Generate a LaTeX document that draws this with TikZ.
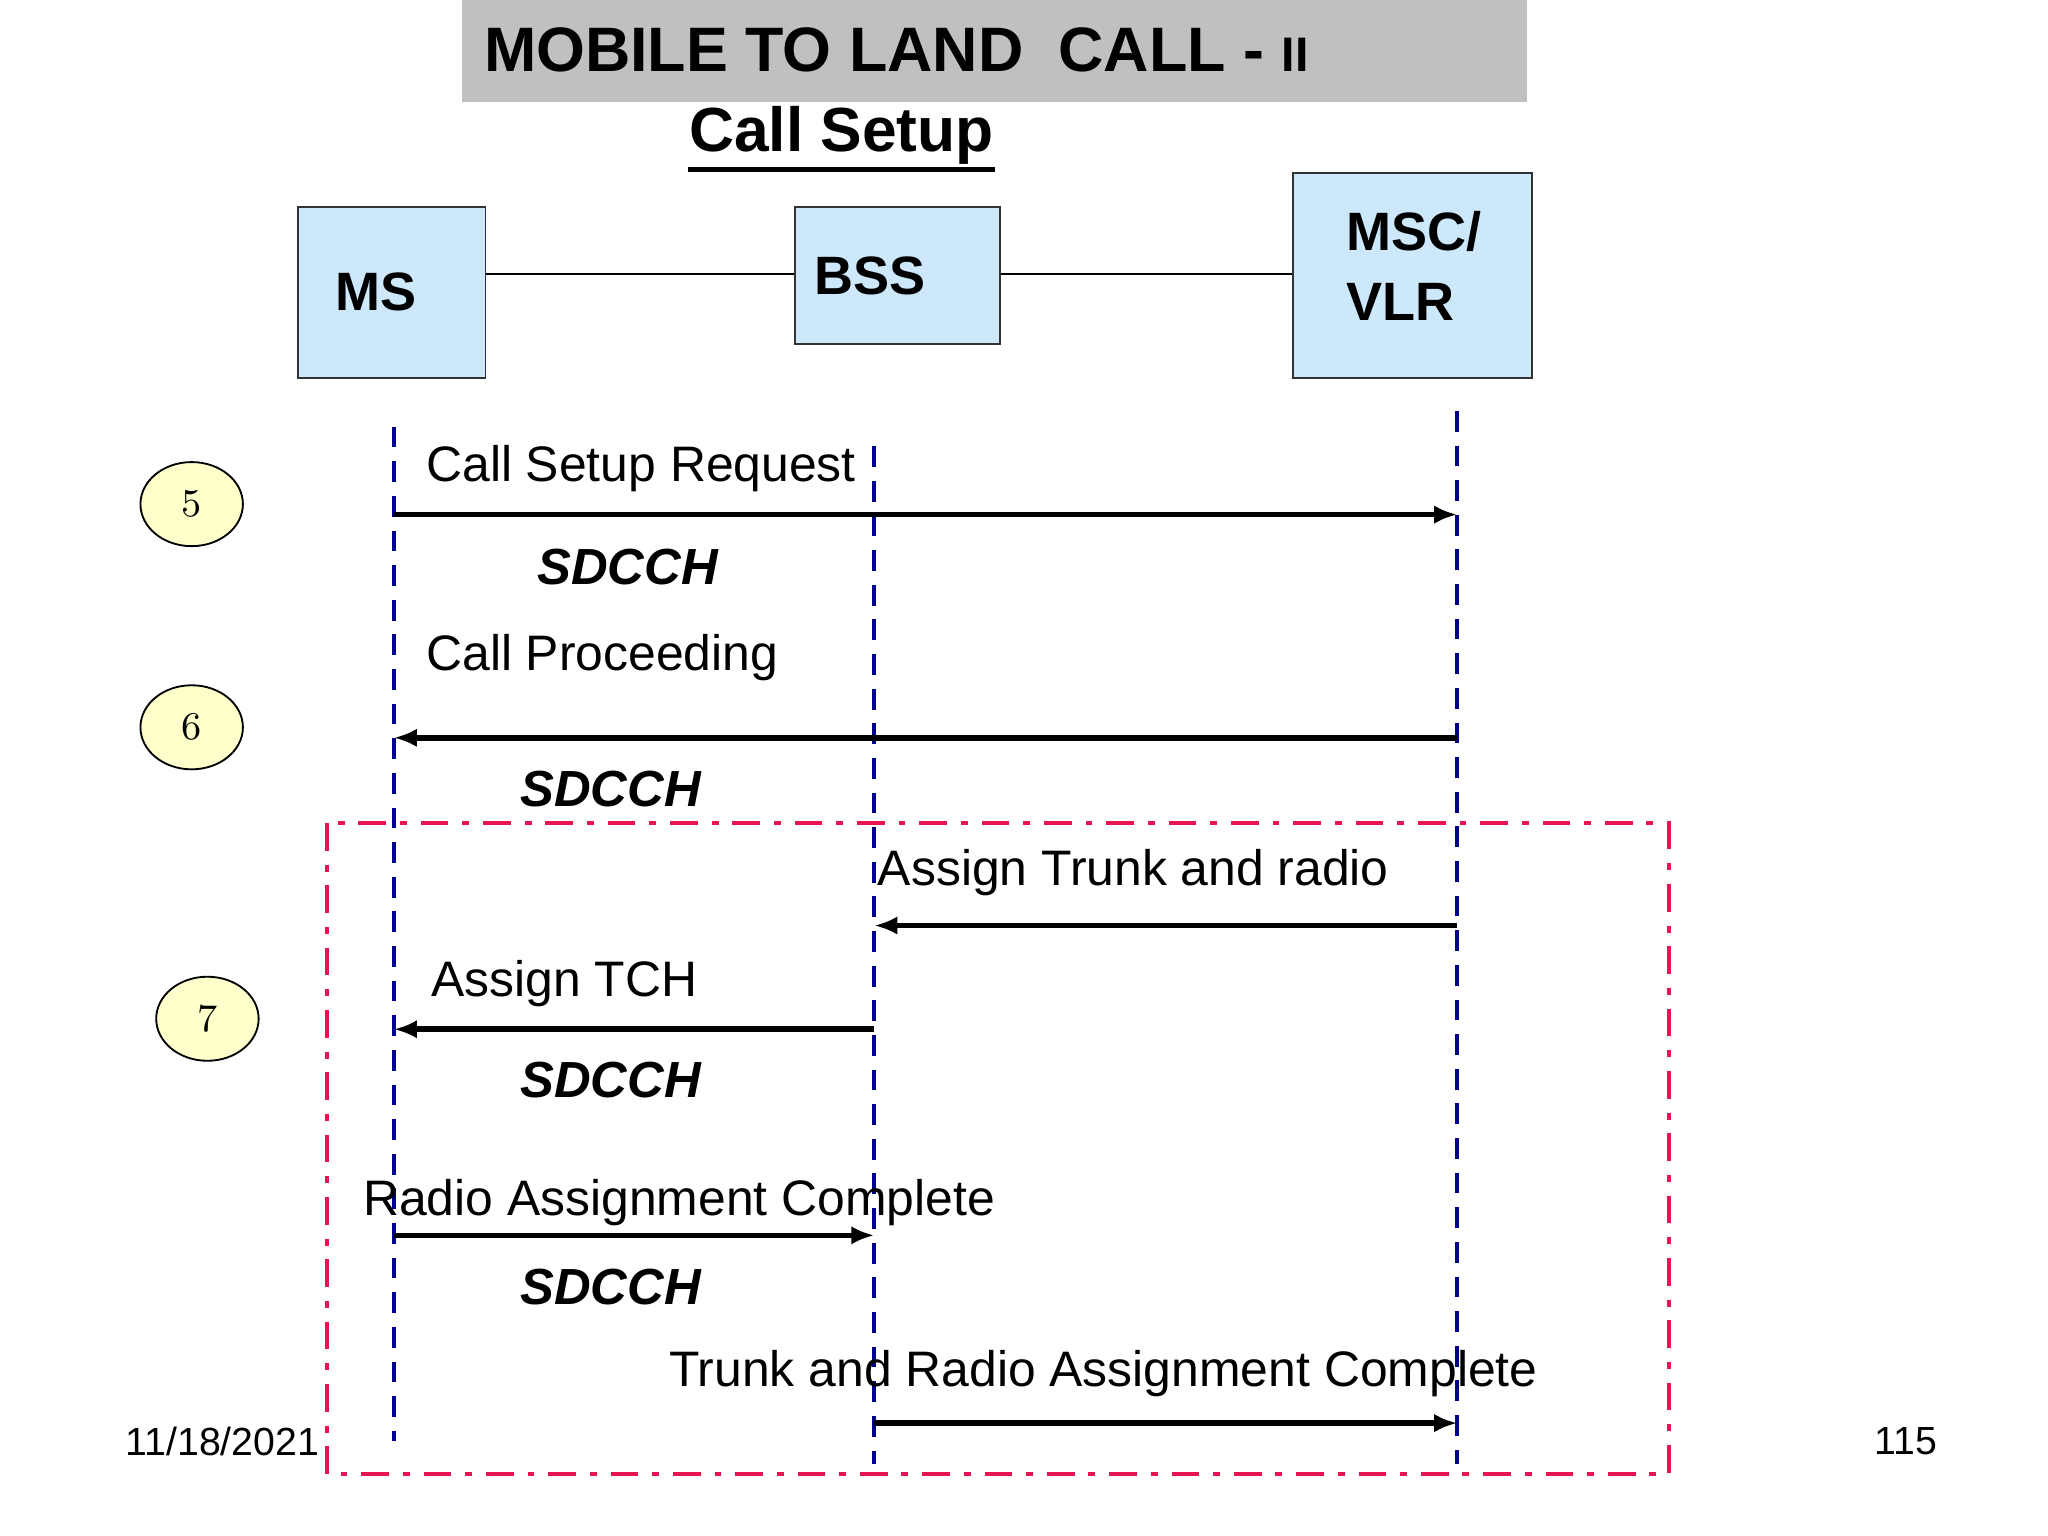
\documentclass[tikz,border=0pt]{standalone}
\usepackage{fontspec}
\setmainfont{Liberation Sans}
\usetikzlibrary{positioning}
\usetikzlibrary{arrows.meta}
\usetikzlibrary{shapes.geometric}
\usepackage{amsmath}
\definecolor{lightblue}{RGB}{204,232,250}
\definecolor{titlegray}{RGB}{192,192,192}
\definecolor{navy}{RGB}{0,0,140}
\definecolor{crimson}{RGB}{230,20,80}
\definecolor{paleyellow}{RGB}{255,255,204}
\tikzset{
	entity/.style={draw=black!80,fill=lightblue,thin,inner sep=0pt,anchor=north west},
	entitytext/.style={anchor=west,font=\fontsize{11.7}{14}\selectfont\bfseries,align=left,inner sep=0pt},
	lifeline/.style={navy,line width=0.9pt,dash pattern=on 4.5pt off 3pt},
	msg/.style={line width=1.2pt,-{Latex[length=5pt,width=4pt]}},
	msgtext/.style={anchor=west,font=\fontsize{10.8}{13}\selectfont,inner sep=0pt},
	channel/.style={font=\fontsize{11}{13}\selectfont\bfseries\itshape,inner sep=0pt},
	stepmark/.style={draw=black,fill=paleyellow,ellipse,minimum width=0.78cm,minimum height=0.64cm,inner sep=0pt,font=\fontfamily{lmr}\fontsize{8.5}{10}\selectfont},
}
\begin{document}
\begin{tikzpicture}[x=0.01cm,y=-0.01cm]
	\useasboundingbox (0,0) rectangle (1560,1170);

	% title.....................
	\fill [titlegray] (352,0) rectangle (1163,78);
	\node [anchor=west,inner sep=0pt,font=\fontsize{13.6}{16}\selectfont\bfseries] (title) at (368,38) {MOBILE TO LAND\ \ CALL - {\fontsize{10.5}{12}\selectfont II}};
	\node [inner sep=0pt,font=\fontsize{13.5}{16}\selectfont\bfseries] (setup) at (641,103) {Call Setup};
	\draw [line width=1pt] ([yshift=-1pt]setup.south west) -- ([yshift=-1pt]setup.south east);

	% entities....................
	\node [entity,minimum width=1.43cm,minimum height=1.30cm] (ms) at (226,157) {};
	\node [entity,minimum width=1.56cm,minimum height=1.04cm] (bss) at (605,157) {};
	\node [entity,minimum width=1.82cm,minimum height=1.56cm] (msc) at (984,131) {};
	\node [entitytext] (mstext) at (255,222) {MS};
	\node [entitytext] (bsstext) at (620,210) {BSS};
	\node [entitytext] (msctext) at (1025,176) {MSC/};
	\node [entitytext] (vlrtext) at (1025,230) {VLR};
	\draw [thin] (ms.east |- 0,209) -- (bss.west |- 0,209);
	\draw [thin] (bss.east |- 0,209) -- (msc.west |- 0,209);

	% lifelines...................
	\coordinate (ms0) at (300,325);  \coordinate (ms1) at (300,1098);
	\coordinate (bss0) at (666,340); \coordinate (bss1) at (666,1115);
	\coordinate (msc0) at (1110,313); \coordinate (msc1) at (1110,1115);
	\draw [lifeline] (ms0) -- (ms1);
	\draw [lifeline] (bss0) -- (bss1);
	\draw [lifeline] (msc0) -- (msc1);

	% assignment frame...............
	\draw [crimson,line width=0.9pt,dash pattern=on 6pt off 3pt on 1.5pt off 3pt] (249,627) rectangle (1271,1123);

	% steps.......................
	\node [stepmark] (s5) at (146,384) {5};
	\node [stepmark] (s6) at (146,554) {6};
	\node [stepmark] (s7) at (158,776) {7};

	% messages....................
	\coordinate (a1) at (300,392);  \coordinate (b1) at (1110,392);
	\coordinate (a2) at (1110,562); \coordinate (b2) at (300,562);
	\coordinate (a3) at (1110,705); \coordinate (b3) at (666,705);
	\coordinate (a4) at (666,784);  \coordinate (b4) at (300,784);
	\coordinate (a5) at (300,941);  \coordinate (b5) at (666,941);
	\coordinate (a6) at (666,1084); \coordinate (b6) at (1110,1084);
	\draw [msg] (a1) -- (b1);
	\draw [msg] (a2) -- (b2);
	\draw [msg] (a3) -- (b3);
	\draw [msg] (a4) -- (b4);
	\draw [msg] (a5) -- (b5);
	\draw [msg] (a6) -- (b6);

	% labels......................
	\node [msgtext] (m1) at (324,357) {Call Setup Request};
	\node [channel] (c1) at (478,432) {SDCCH};
	\node [msgtext] (m2) at (324,501) {Call Proceeding};
	\node [channel] (c2) at (465,601) {SDCCH};
	\node [msgtext] (m3) at (668,665) {Assign Trunk and radio};
	\node [msgtext] (m4) at (328,749) {Assign TCH};
	\node [channel] (c4) at (465,823) {SDCCH};
	\node [msgtext] (m5) at (276,916) {Radio Assignment Complete};
	\node [channel] (c5) at (465,980) {SDCCH};
	\node [msgtext] (m6) at (509,1046) {Trunk and Radio Assignment Complete};

	% footer......................
	\node [anchor=west,inner sep=0pt,font=\fontsize{8.5}{10}\selectfont] (date) at (95,1098) {11/18/2021};
	\node [anchor=west,inner sep=0pt,font=\fontsize{8.5}{10}\selectfont] (page) at (1427,1098) {115};
\end{tikzpicture}
\end{document}
